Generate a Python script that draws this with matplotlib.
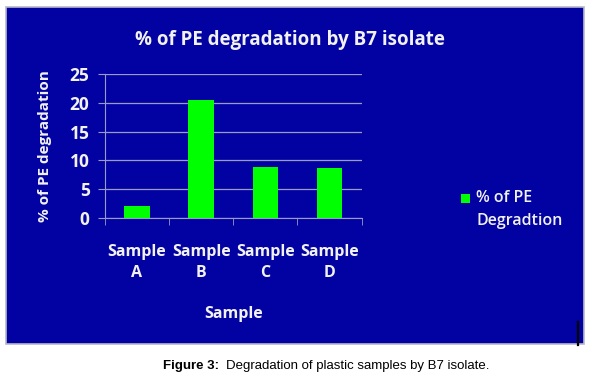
import matplotlib
matplotlib.use('Agg')
import matplotlib.pyplot as plt
from matplotlib.patches import Rectangle
from matplotlib.lines import Line2D

NAVY = '#0202A2'; GREEN = '#00FF00'; GRID = '#9A9AC8'; TXT = '#F2F2F2'

categories = ['Sample\nA', 'Sample\nB', 'Sample\nC', 'Sample\nD']
degradation = [2.1, 20.5, 8.8, 8.7]
yticks = [0, 5, 10, 15, 20, 25]
legend_label = ['% of PE', 'Degradtion']

W, H = 592, 376
fig = plt.figure(figsize=(W / 100, H / 100), dpi=100)
fig.patch.set_facecolor('white')
# blue chart panel with a thin grey frame
fig.patches.append(Rectangle((0.010, 0.085), 0.976, 0.897, transform=fig.transFigure,
                             facecolor=NAVY, edgecolor='#B8B8C8', lw=1.2, zorder=-10))
fig.lines.append(Line2D([0.9765, 0.9765], [0.082, 0.143], transform=fig.transFigure,
                        color='black', lw=1.6))

ax = fig.add_axes([0.177, 0.420, 0.434, 0.383])
ax.set_facecolor(NAVY)
x = range(len(categories))
ax.bar(x, degradation, width=0.40, color=GREEN, zorder=3)
ax.set_xlim(-0.5, len(categories) - 0.5)
ax.set_ylim(0, 25)
ax.set_yticks(yticks)
ax.set_xticks(x)
ax.set_xticklabels(categories, linespacing=1.4)
ax.set_xticks([i - 0.5 for i in range(len(categories) + 1)], minor=True)
ax.yaxis.grid(True, color=GRID, lw=0.9, zorder=0)
for s in ['top', 'right']:
    ax.spines[s].set_visible(False)
for s in ['left', 'bottom']:
    ax.spines[s].set_color(GRID)
ax.tick_params(axis='x', which='major', length=0, pad=19, labelsize=11.5, labelcolor=TXT)
ax.tick_params(axis='x', which='minor', length=5, color=GRID)
ax.tick_params(axis='y', length=5, color=GRID, labelsize=12.5, labelcolor=TXT, pad=6)
for lab in ax.get_xticklabels() + ax.get_yticklabels():
    lab.set_family('Open Sans'); lab.set_weight('bold')

ax.set_xlabel('Sample', family='Open Sans', weight='bold', fontsize=11.5,
              color=TXT, labelpad=18)
fig.text(0.076, 0.612, '% of PE degradation', rotation=90, family='Open Sans',
         weight='bold', fontsize=11, color=TXT, ha='center', va='center')
fig.text(0.490, 0.893, '% of PE degradation by B7 isolate', family='Open Sans',
         weight='bold', fontsize=13.5, color=TXT, ha='center', va='center')

# legend drawn by hand (square + two lines of text)
fig.patches.append(Rectangle((461 / W, 1 - 203 / H), 9 / W, 9 / H, transform=fig.transFigure,
                             facecolor=GREEN, edgecolor='none'))
for i, s in enumerate(legend_label):
    fig.text(476 / W, 1 - (198 + 23 * i) / H, s, family='Open Sans', weight='semibold',
             fontsize=11.5, color=TXT, ha='left', va='center')

fig.text(0.275, 0.027, 'Figure 3:', family='Liberation Sans', weight='bold',
         fontsize=9.5, color='black', ha='left', va='center')
fig.text(0.381, 0.027, 'Degradation of plastic samples by B7 isolate.',
         family='Liberation Sans', fontsize=9.5, color='black', ha='left', va='center')

fig.savefig('out.png', dpi=100)
